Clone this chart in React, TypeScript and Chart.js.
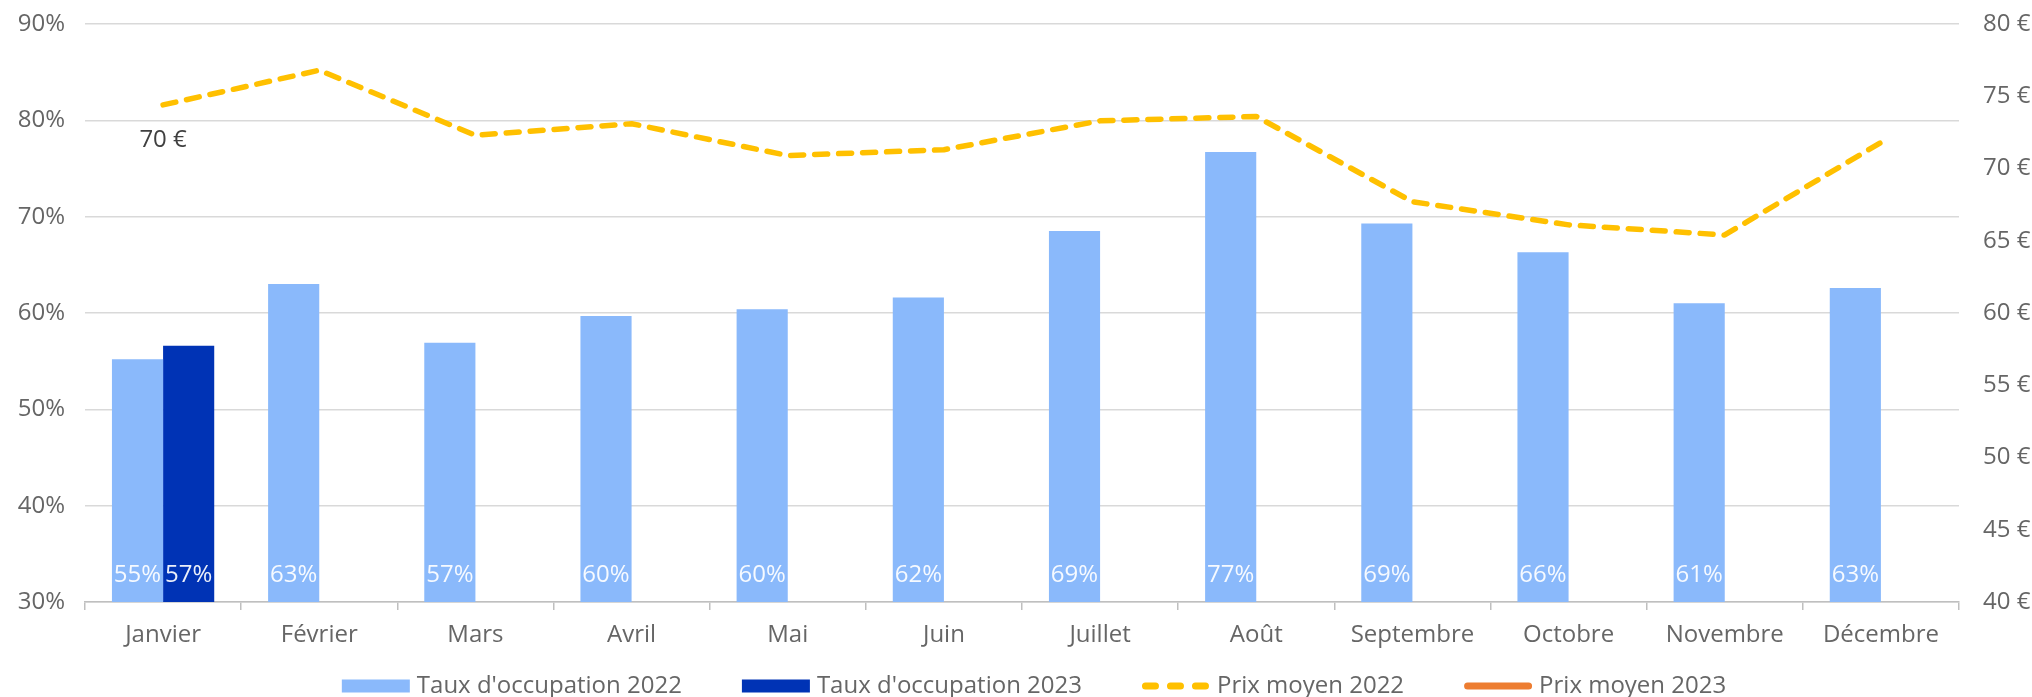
import React, { useEffect, useRef } from 'react';
import { Chart, registerables } from 'chart.js';

Chart.register(...registerables);

const months = ['Janvier', 'Février', 'Mars', 'Avril', 'Mai', 'Juin', 'Juillet', 'Août', 'Septembre', 'Octobre', 'Novembre', 'Décembre'];
const occupation2022 = [55.2, 63.0, 56.9, 59.7, 60.4, 61.6, 68.5, 76.7, 69.3, 66.3, 61.0, 62.6];
const occupation2023 = [56.6, null, null, null, null, null, null, null, null, null, null, null];
const prix2022 = [74.4, 76.8, 72.3, 73.1, 70.9, 71.3, 73.3, 73.6, 67.7, 66.1, 65.4, 71.8];
const prix2023 = [70, null, null, null, null, null, null, null, null, null, null, null];
const seriesNames = ["Taux d'occupation 2022", "Taux d'occupation 2023", 'Prix moyen 2022', 'Prix moyen 2023'];
const leftAxis = { min: 30, max: 90, step: 10 };
const rightAxis = { min: 40, max: 80, step: 5 };

const FONT = '"Open Sans", sans-serif';
const C_LIGHT = '#8AB9FB';
const C_DARK = '#0033B5';
const C_YELLOW = '#FFC000';
const C_ORANGE = '#ED7D31';
const C_TEXT = '#666666';

const labelsPlugin = {
  id: 'valueLabels',
  afterDatasetsDraw(chart: any) {
    const ctx = chart.ctx;
    ctx.save();
    ctx.font = `24px ${FONT}`;
    ctx.textAlign = 'center';
    ctx.textBaseline = 'middle';
    const base = chart.scales.y.bottom;
    [0, 1].forEach((di) => {
      const meta = chart.getDatasetMeta(di);
      const data = chart.data.datasets[di].data;
      meta.data.forEach((el: any, i: number) => {
        const v = data[i];
        if (v == null) return;
        ctx.fillStyle = 'rgba(255,255,255,0.92)';
        ctx.fillText(Math.round(v) + '%', el.x, base - 27);
      });
    });
    const meta3 = chart.getDatasetMeta(3);
    const d3 = chart.data.datasets[3].data;
    meta3.data.forEach((el: any, i: number) => {
      const v = d3[i];
      if (v == null) return;
      ctx.fillStyle = '#404040';
      ctx.fillText(Math.round(v) + ' €', el.x, el.y - 28);
    });
    ctx.restore();
  },
};

const legendPlugin = {
  id: 'customLegend',
  afterDraw(chart: any) {
    const ctx = chart.ctx;
    const items = chart.data.datasets.map((ds: any) => ({
      text: ds.label,
      kind: ds.type === 'line' ? (ds.borderDash && ds.borderDash.length ? 'dash' : 'line') : 'box',
      color: ds.type === 'line' ? ds.borderColor : ds.backgroundColor,
    }));
    ctx.save();
    ctx.font = `24px ${FONT}`;
    const boxW = 68;
    const gapText = 7;
    const gapItem = 60;
    const widths = items.map((it: any) => boxW + gapText + ctx.measureText(it.text).width);
    const total = widths.reduce((a: number, b: number) => a + b, 0) + gapItem * (items.length - 1);
    let x = (chart.chartArea.left + chart.chartArea.right) / 2 + 12 - total / 2;
    const cy = 686;
    items.forEach((it: any, i: number) => {
      if (it.kind === 'box') {
        ctx.fillStyle = it.color;
        ctx.fillRect(x, cy - 6.5, boxW, 13);
      } else {
        ctx.strokeStyle = it.color;
        ctx.lineWidth = 7;
        ctx.lineCap = 'round';
        ctx.setLineDash(it.kind === 'dash' ? [10, 15] : []);
        ctx.beginPath();
        ctx.moveTo(x + 3.5, cy);
        ctx.lineTo(x + boxW - 3.5, cy);
        ctx.stroke();
        ctx.setLineDash([]);
      }
      ctx.fillStyle = C_TEXT;
      ctx.textAlign = 'left';
      ctx.textBaseline = 'middle';
      ctx.fillText(it.text, x + boxW + gapText, cy);
      x += widths[i] + gapItem;
    });
    ctx.restore();
  },
};

export default function App() {
  const ref = useRef<HTMLCanvasElement>(null);
  useEffect(() => {
    if (!ref.current) return;
    Chart.defaults.font.family = FONT;
    const chart = new Chart(ref.current, {
      type: 'bar',
      data: {
        labels: months,
        datasets: [
          { type: 'bar', label: seriesNames[0], data: occupation2022, backgroundColor: C_LIGHT, yAxisID: 'y', order: 2 },
          { type: 'bar', label: seriesNames[1], data: occupation2023, backgroundColor: C_DARK, yAxisID: 'y', order: 2 },
          {
            type: 'line', label: seriesNames[2], data: prix2022, borderColor: C_YELLOW, backgroundColor: C_YELLOW,
            borderWidth: 5.5, borderDash: [13, 11], borderCapStyle: 'round', borderJoinStyle: 'round',
            pointRadius: 0, tension: 0, yAxisID: 'y1', order: 0,
          },
          {
            type: 'line', label: seriesNames[3], data: prix2023, borderColor: C_ORANGE, backgroundColor: C_ORANGE,
            borderWidth: 5.5, pointRadius: 0, tension: 0, yAxisID: 'y1', order: 0,
          },
        ],
      } as any,
      options: {
        animation: false,
        responsive: true,
        maintainAspectRatio: false,
        layout: { padding: { top: 24, left: 0, right: 0, bottom: 0 } },
        datasets: { bar: { categoryPercentage: 0.655, barPercentage: 1.0 } } as any,
        plugins: { legend: { display: false }, tooltip: { enabled: false } },
        scales: {
          x: {
            offset: true,
            grid: { display: true, drawOnChartArea: false, drawTicks: true, tickLength: 8, color: '#BFBFBF', lineWidth: 1.5, offset: true },
            border: { display: true, color: '#BFBFBF', width: 1.5 },
            ticks: { color: C_TEXT, font: { size: 24, family: FONT }, padding: 11, maxRotation: 0, autoSkip: false },
            afterFit: (s: any) => { s.height = 95; s.paddingLeft = 0; s.paddingRight = 0; },
          },
          y: {
            position: 'left',
            min: leftAxis.min,
            max: leftAxis.max,
            ticks: { stepSize: leftAxis.step, color: C_TEXT, font: { size: 24, family: FONT }, padding: 20, callback: (v: any) => v + '%' },
            grid: { color: '#D9D9D9', lineWidth: 1.5, drawTicks: false },
            border: { display: false },
            afterFit: (s: any) => { s.width = 85; s.paddingTop = 0; s.paddingBottom = 0; },
          },
          y1: {
            position: 'right',
            min: rightAxis.min,
            max: rightAxis.max,
            ticks: { stepSize: rightAxis.step, color: C_TEXT, font: { size: 24, family: FONT }, padding: 24, callback: (v: any) => v + ' €' },
            grid: { display: false, drawTicks: false },
            border: { display: false },
            afterFit: (s: any) => { s.width = 73; s.paddingTop = 0; s.paddingBottom = 0; },
          },
        },
      } as any,
      plugins: [labelsPlugin, legendPlugin],
    });
    return () => chart.destroy();
  }, []);
  return (
    <div style={{ position: 'fixed', left: 0, top: 0, width: 2032, height: 697, background: '#fff' }}>
      <canvas ref={ref} />
    </div>
  );
}
